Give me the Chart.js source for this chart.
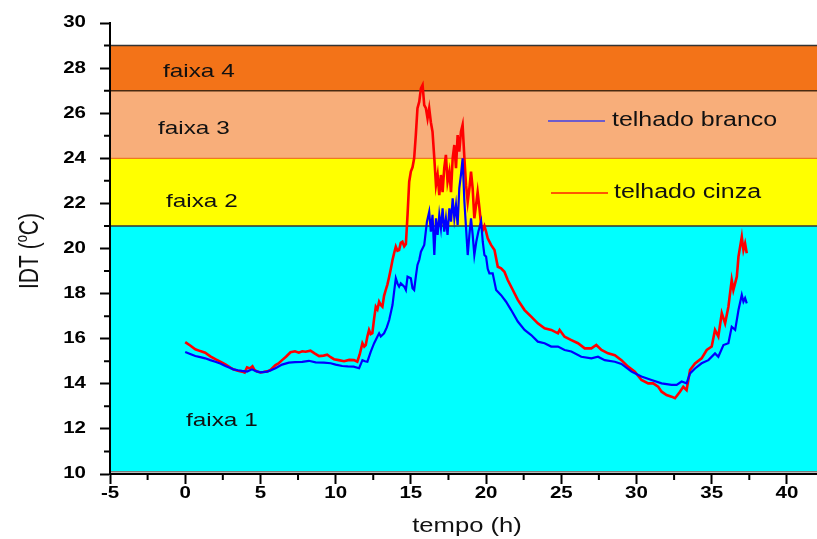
<!DOCTYPE html>
<html>
<head>
<meta charset="utf-8">
<script src="https://cdn.jsdelivr.net/npm/chart.js@4.4.0/dist/chart.umd.min.js"></script>
<style>
  body { margin: 0; background: #fff; }
  #wrap { width: 817px; height: 539px; }
</style>
</head>
<body>
<div id="wrap"><canvas id="idt-chart" width="817" height="539"></canvas></div>
<script>
// tempo (h) e IDT (°C)
const cinzaT = [0, 0.33, 0.67, 1.0, 1.33, 1.67, 2.0, 2.33, 2.67, 3.0, 3.2, 3.5, 3.78, 3.95, 4.11, 4.3, 4.47, 4.6, 4.78, 5.0,
  5.2, 5.45, 5.67, 6.0, 6.2, 6.44, 6.7, 7.0, 7.3, 7.55, 7.78, 8.0, 8.33, 8.6, 8.9, 9.2, 9.44, 9.67, 9.89, 10.2,
  10.56, 10.9, 11.22, 11.44, 11.6, 11.78, 11.9, 12.0, 12.11, 12.22, 12.33, 12.44, 12.56, 12.67, 12.78, 12.89, 13.0, 13.11, 13.22, 13.33,
  13.44, 13.56, 13.67, 13.78, 13.89, 14.0, 14.11, 14.22, 14.33, 14.44, 14.56, 14.67, 14.78, 14.89, 15.0, 15.11, 15.22, 15.33, 15.44, 15.56,
  15.67, 15.78, 15.89, 16.0, 16.11, 16.22, 16.33, 16.44, 16.56, 16.67, 16.78, 16.89, 17.0, 17.11, 17.22, 17.33, 17.44, 17.56, 17.67, 17.78,
  17.89, 18.0, 18.11, 18.22, 18.33, 18.44, 18.56, 18.67, 18.78, 18.89, 19.0, 19.11, 19.22, 19.33, 19.44, 19.56, 19.67, 19.78, 19.89, 20.0,
  20.11, 20.33, 20.56, 20.78, 21.0, 21.22, 21.44, 21.78, 22.11, 22.56, 23.0, 23.44, 23.89, 24.33, 24.78, 24.89, 25.22, 25.67, 26.11, 26.56,
  27.0, 27.33, 27.67, 28.11, 28.56, 29.0, 29.44, 29.89, 30.33, 30.78, 31.11, 31.44, 31.67, 32.0, 32.33, 32.56, 32.89, 33.11, 33.33, 33.56,
  33.89, 34.33, 34.67, 35.0, 35.22, 35.44, 35.67, 35.89, 36.11, 36.33, 36.44, 36.67, 36.78, 37.0, 37.11, 37.22, 37.33];
const cinzaV = [15.85, 15.7, 15.53, 15.45, 15.38, 15.22, 15.09, 14.98, 14.86, 14.72, 14.64, 14.58, 14.54, 14.5, 14.73, 14.68, 14.78, 14.62, 14.54, 14.5,
  14.52, 14.55, 14.61, 14.83, 14.9, 15.05, 15.2, 15.4, 15.44, 15.38, 15.44, 15.42, 15.47, 15.35, 15.23, 15.25, 15.29, 15.18, 15.09, 15.05,
  15.0, 15.06, 15.05, 14.98, 15.3, 15.8, 15.65, 15.72, 16.1, 16.39, 16.2, 16.24, 16.9, 17.42, 17.3, 17.64, 17.5, 17.42, 17.9, 18.16,
  18.4, 18.75, 19.1, 19.49, 19.8, 20.08, 19.9, 19.93, 20.25, 20.3, 20.1, 20.2, 21.49, 22.96, 23.41, 23.6, 24.0, 25.03, 26.22, 26.51,
  27.1, 27.25, 26.36, 26.22, 25.77, 26.22, 25.6, 25.18, 24.0, 22.81, 23.26, 22.37, 23.26, 22.5, 23.56, 24.15, 22.96, 23.4, 22.5, 24.0,
  24.59, 23.56, 25.03, 24.3, 25.18, 25.48, 24.0, 22.81, 22.07, 22.66, 23.41, 22.66, 21.34, 21.9, 22.5, 21.79, 21.04, 20.82, 21.0, 20.75,
  20.45, 20.16, 19.93, 19.19, 19.12, 18.97, 18.6, 18.16, 17.72, 17.27, 16.98, 16.68, 16.46, 16.39, 16.24, 16.39, 16.09, 15.94, 15.8, 15.57,
  15.57, 15.72, 15.5, 15.35, 15.27, 15.05, 14.76, 14.54, 14.17, 14.02, 14.02, 13.87, 13.65, 13.5, 13.43, 13.36, 13.65, 13.87, 13.72, 14.61,
  14.9, 15.13, 15.5, 15.65, 16.39, 16.1, 17.13, 16.68, 17.42, 18.6, 18.16, 18.75, 19.64, 20.52, 19.93, 20.22, 19.79];

const brancoT = [0, 0.33, 0.67, 1.0, 1.33, 1.67, 2.0, 2.33, 2.67, 3.0, 3.2, 3.5, 3.78, 4.11, 4.44, 4.7, 5.0, 5.44, 5.7, 6.0,
  6.44, 6.89, 7.3, 7.78, 8.22, 8.67, 9.22, 9.67, 10.0, 10.44, 10.8, 11.2, 11.56, 11.78, 11.95, 12.11, 12.33, 12.56, 12.78, 12.89,
  13.0, 13.22, 13.4, 13.56, 13.78, 13.89, 14.0, 14.11, 14.22, 14.33, 14.56, 14.67, 14.78, 15.0, 15.11, 15.22, 15.33, 15.44, 15.56, 15.67,
  15.89, 16.07, 16.22, 16.33, 16.44, 16.56, 16.67, 16.78, 16.89, 17.0, 17.11, 17.22, 17.33, 17.44, 17.56, 17.67, 17.78, 17.89, 18.0, 18.11,
  18.22, 18.33, 18.44, 18.56, 18.67, 18.78, 18.89, 19.0, 19.11, 19.22, 19.35, 19.49, 19.67, 19.78, 19.89, 20.0, 20.11, 20.22, 20.44, 20.67,
  21.0, 21.33, 21.67, 22.11, 22.56, 23.0, 23.44, 23.89, 24.33, 24.78, 25.22, 25.67, 26.33, 27.0, 27.44, 27.89, 28.56, 29.0, 29.67, 30.33,
  31.0, 31.67, 32.33, 32.67, 33.0, 33.33, 33.56, 33.89, 34.33, 34.78, 35.22, 35.44, 35.78, 36.11, 36.33, 36.56, 36.78, 37.0, 37.11, 37.22, 37.33];
const brancoV = [15.41, 15.32, 15.23, 15.18, 15.13, 15.05, 14.98, 14.9, 14.79, 14.7, 14.64, 14.6, 14.57, 14.54, 14.64, 14.56, 14.51, 14.54, 14.6, 14.69,
  14.85, 14.94, 14.96, 14.97, 15.02, 14.95, 14.94, 14.91, 14.85, 14.79, 14.77, 14.76, 14.69, 15.05, 15.0, 14.98, 15.42, 15.8, 16.1, 16.24,
  16.1, 16.24, 16.5, 16.83, 17.49, 18.1, 18.68, 18.45, 18.31, 18.46, 18.31, 18.16, 18.75, 18.68, 18.24, 18.16, 18.75, 19.27, 19.5, 19.86,
  20.16, 21.19, 21.63, 20.75, 21.49, 19.71, 21.34, 20.6, 21.49, 20.9, 21.78, 20.75, 21.34, 20.6, 21.78, 21.19, 22.22, 21.34, 21.93, 21.04,
  22.67, 23.26, 24.0, 22.07, 20.9, 19.71, 20.6, 21.34, 20.6, 19.71, 20.3, 20.75, 21.2, 20.3, 19.71, 19.64, 19.1, 18.9, 18.9, 18.16,
  17.93, 17.64, 17.27, 16.76, 16.39, 16.16, 15.87, 15.8, 15.65, 15.65, 15.5, 15.43, 15.2, 15.13, 15.2, 15.05, 14.98, 14.88, 14.54, 14.32,
  14.17, 14.02, 13.95, 13.95, 14.1, 14.02, 14.46, 14.68, 14.91, 15.05, 15.35, 15.2, 15.72, 15.8, 16.53, 16.39, 17.27, 17.94, 17.64, 17.8, 17.57];

// faixas de IDT
const faixaLimites = [10.1, 21, 24, 27, 29];
const faixaNomes = ['faixa 1', 'faixa 2', 'faixa 3', 'faixa 4'];
const faixaCores = ['#00FFFF', '#FFFF00', '#F8AE7A', '#F37318'];

const serieNomes = ['telhado branco', 'telhado cinza'];

const toPoints = (ts, vs) => ts.map((t, i) => ({ x: t, y: vs[i] }));

const FONT = '"Liberation Sans", Arial, sans-serif';
const SX = 1.28; // o original é esticado na horizontal

function txt(ctx, s, x, y, font, align) {
  ctx.save();
  ctx.translate(x, y);
  ctx.scale(SX, 1);
  ctx.font = font;
  ctx.textAlign = align || 'left';
  ctx.textBaseline = 'middle';
  ctx.fillText(s, 0, 0);
  ctx.restore();
}

const faixasPlugin = {
  id: 'faixas',
  beforeDraw(chart) {
    const { ctx, chartArea, scales } = chart;
    const y = scales.y;
    ctx.save();
    for (let i = 0; i < faixaNomes.length; i++) {
      const top = y.getPixelForValue(faixaLimites[i + 1]);
      const bot = y.getPixelForValue(faixaLimites[i]);
      ctx.fillStyle = faixaCores[i];
      ctx.fillRect(chartArea.left, top, chartArea.right - chartArea.left, bot - top);
    }
    // divisórias
    const lines = [
      [faixaLimites[0], '#7a7a7a', 1.5],
      [faixaLimites[1], '#333333', 1.5],
      [faixaLimites[2], '#EE7A20', 1.2],
      [faixaLimites[3], '#4a2a10', 1.5],
      [faixaLimites[4], '#333333', 1.5],
    ];
    lines.forEach(([v, c, w]) => {
      const py = y.getPixelForValue(v);
      ctx.strokeStyle = c;
      ctx.lineWidth = w;
      ctx.beginPath();
      ctx.moveTo(chartArea.left, py);
      ctx.lineTo(chartArea.right, py);
      ctx.stroke();
    });
    // rótulos das faixas
    ctx.fillStyle = '#111';
    const offs = [[76, 421], [56, 202], [48, 129], [53, 72]];
    faixaNomes.forEach((n, i) => txt(ctx, n, chartArea.left + offs[i][0], offs[i][1], '19px ' + FONT));
    ctx.restore();
  },
  afterDraw(chart) {
    const { ctx, chartArea, scales } = chart;
    ctx.save();
    // ticks secundários
    ctx.strokeStyle = '#000';
    ctx.lineWidth = 2;
    ctx.beginPath();
    for (let v = scales.x.min + 2.5; v < scales.x.max; v += 5) {
      const px = scales.x.getPixelForValue(v);
      ctx.moveTo(px, chartArea.bottom);
      ctx.lineTo(px, chartArea.bottom + 6);
    }
    for (let v = scales.y.min + 1; v < scales.y.max; v += 2) {
      const py = scales.y.getPixelForValue(v);
      ctx.moveTo(chartArea.left, py);
      ctx.lineTo(chartArea.left - 6, py);
    }
    ctx.stroke();

    // rótulos dos ticks
    ctx.fillStyle = '#000';
    const tf = 'bold 16px ' + FONT;
    scales.x.ticks.forEach((t) => {
      txt(ctx, String(t.value), scales.x.getPixelForValue(t.value), chartArea.bottom + 20, tf, 'center');
    });
    scales.y.ticks.forEach((t) => {
      txt(ctx, String(t.value), chartArea.left - 24, scales.y.getPixelForValue(t.value), tf, 'right');
    });

    // legenda
    ctx.strokeStyle = '#6E5CCB';
    ctx.lineWidth = 2;
    ctx.beginPath(); ctx.moveTo(548, 121); ctx.lineTo(605, 121); ctx.stroke();
    ctx.fillStyle = '#111';
    txt(ctx, serieNomes[0], 612, 121, '19.5px ' + FONT);
    ctx.strokeStyle = '#FF2000';
    ctx.lineWidth = 1.5;
    ctx.beginPath(); ctx.moveTo(551, 193); ctx.lineTo(608, 193); ctx.stroke();
    txt(ctx, serieNomes[1], 614, 193, '19.5px ' + FONT);

    // títulos dos eixos
    txt(ctx, 'tempo (h)', 467, 526, '20px ' + FONT, 'center');

    ctx.translate(31, 251);
    ctx.scale(SX, 1);
    ctx.rotate(-Math.PI / 2);
    ctx.textAlign = 'left';
    ctx.textBaseline = 'middle';
    const big = '21px ' + FONT, small = '13px ' + FONT;
    const a = 'IDT (', b = 'o', c = 'C)';
    ctx.font = big;
    const wa = ctx.measureText(a).width;
    const wc = ctx.measureText(c).width;
    ctx.font = small;
    const wb = ctx.measureText(b).width;
    const x0 = -(wa + wb + wc) / 2;
    ctx.font = big;
    ctx.fillText(a, x0, 0);
    ctx.fillText(c, x0 + wa + wb, 0);
    ctx.font = small;
    ctx.fillText(b, x0 + wa, -7);
    ctx.restore();
  }
};

const ctx = document.getElementById('idt-chart');
new Chart(ctx, {
  type: 'line',
  data: {
    datasets: [
      {
        label: serieNomes[0],
        data: toPoints(brancoT, brancoV),
        borderColor: '#0000FF',
        borderWidth: 2.2,
        pointRadius: 0,
        tension: 0,
      },
      {
        label: serieNomes[1],
        data: toPoints(cinzaT, cinzaV),
        borderColor: '#FF0000',
        borderWidth: 2.6,
        pointRadius: 0,
        tension: 0,
      },
    ],
  },
  options: {
    responsive: false,
    animation: false,
    layout: { padding: { top: 23, left: 0, right: 0, bottom: 0 } },
    plugins: { legend: { display: false }, tooltip: { enabled: false } },
    scales: {
      x: {
        type: 'linear',
        min: -5,
        max: 42,
        afterFit: (s) => { s.height = 65; },
        ticks: { stepSize: 5, includeBounds: false, color: 'rgba(0,0,0,0)', padding: 4, maxRotation: 0,
          font: { family: FONT, size: 15, weight: 'bold' } },
        grid: { drawOnChartArea: false, tickLength: 10, tickWidth: 2, tickColor: '#000' },
        border: { color: '#000', width: 2 },
      },
      y: {
        min: 10,
        max: 30,
        afterFit: (s) => { s.width = 110; },
        ticks: { stepSize: 2, color: 'rgba(0,0,0,0)', padding: 14,
          font: { family: FONT, size: 15, weight: 'bold' } },
        grid: { drawOnChartArea: false, tickLength: 10, tickWidth: 2, tickColor: '#000' },
        border: { color: '#000', width: 2 },
      },
    },
  },
  plugins: [faixasPlugin],
});
</script>
</body>
</html>
